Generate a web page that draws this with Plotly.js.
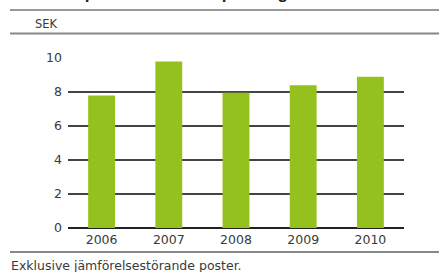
<!DOCTYPE html>
<html><head><meta charset="utf-8">
<script src="https://cdn.plot.ly/plotly-3.0.1.min.js"></script>
<style>html,body{margin:0;padding:0;background:#fff}#c{width:439px;height:272px}</style>
</head><body><div id="c"></div>
<script>
const years = ['2006','2007','2008','2009','2010'];
const values = [7.8, 9.8, 7.95, 8.4, 8.9];
const yTicks = [0,2,4,6,8,10];
const unitLabel = 'SEK';
const titleText = 'Resultat per aktie före utspädning';
const footnote = 'Exklusive jämförelsestörande poster.';

const L=68, R=404, T=58, B=228;
const px = x => (x-L)/(R-L);
const py = y => (B-y)/(B-T);
const fam = 'DejaVu Sans, sans-serif';
const font = {family:fam, size:12.5, color:'#3a3a3a'};

Plotly.newPlot('c', [{
  type:'bar', x:years, y:values, marker:{color:'#95c11f'}, hoverinfo:'none'
}], {
  width:439, height:272,
  margin:{l:L, r:439-R, t:T, b:272-B, pad:0},
  paper_bgcolor:'#fff', plot_bgcolor:'#fff',
  bargap:0.6,
  font:font,
  showlegend:false,
  xaxis:{type:'category', showgrid:false, showline:false, zeroline:false, ticks:'', tickfont:font, ticklabelstandoff:2},
  yaxis:{range:[0,10], tickvals:yTicks, showgrid:true, gridcolor:'#444', gridwidth:1.3,
         zeroline:true, zerolinecolor:'#222', zerolinewidth:2, showline:false, ticks:'', tickfont:font, ticklabelstandoff:5},
  shapes:[
    {type:'line', xref:'paper', yref:'paper', x0:px(10), x1:px(440), y0:py(10), y1:py(10), line:{color:'#999', width:2}},
    {type:'line', xref:'paper', yref:'paper', x0:px(10), x1:px(440), y0:py(33.5), y1:py(33.5), line:{color:'#888', width:2}},
    {type:'line', xref:'paper', yref:'paper', x0:px(10), x1:px(440), y0:py(252), y1:py(252), line:{color:'#888', width:2}}
  ],
  annotations:[
    {text:'<b>'+titleText+'</b>', xref:'paper', yref:'paper', x:px(11), y:py(5), xanchor:'left', yanchor:'bottom', showarrow:false,
     font:{family:'Liberation Sans, Arial, sans-serif', size:17, color:'#222'}},
    {text:unitLabel, xref:'paper', yref:'paper', x:px(33), y:py(24), xanchor:'left', yanchor:'middle', showarrow:false,
     font:{family:fam, size:11.5, color:'#3a3a3a'}},
    {text:footnote, xref:'paper', yref:'paper', x:px(9), y:py(265.5), xanchor:'left', yanchor:'middle', showarrow:false,
     font:{family:fam, size:12.5, color:'#3a3a3a'}}
  ]
}, {staticPlot:true, displayModeBar:false});
</script></body></html>
